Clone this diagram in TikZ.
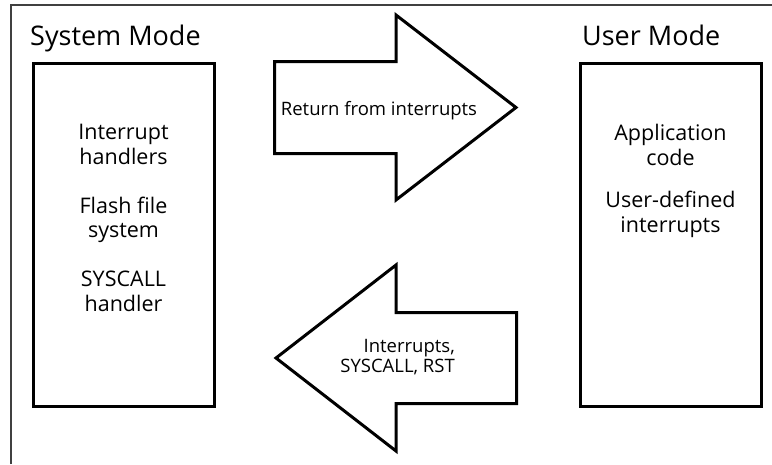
\documentclass[tikz,border=0pt]{standalone}
\usepackage{fontspec}
\setmainfont{Open Sans}
\usetikzlibrary{positioning}

\begin{document}
\begin{tikzpicture}[
    x=1pt, y=-1pt,
    modebox/.style={draw, line width=3pt, minimum width=181pt, minimum height=343pt, anchor=north west, inner sep=0pt},
    modetitle/.style={anchor=base west, inner sep=0pt, font=\fontsize{27}{30}\selectfont},
    boxtext/.style={anchor=north, inner sep=0pt, align=center, font=\fontsize{21.5}{24.5}\selectfont},
    arrowshape/.style={draw, line width=3pt, line join=miter},
    arrowtext/.style={inner sep=0pt, font=\fontsize{18.5}{20}\selectfont}
]
\useasboundingbox (0,0) rectangle (772,464);

% outer frame
\draw[line width=2pt, black!75] (11,464) |- (772,5);

% modes
\node[modebox] (sys) at (31.5,61.5) {};
\node[modebox] (usr) at (578.5,61.5) {};

\node[modetitle] (systitle) at (30,45) {System Mode};
\node[modetitle] (usrtitle) at (582,45) {User Mode};

\node[boxtext] (systext) at (sys.center |- 0,124)
    {Interrupt\\handlers\\[24.5pt]Flash file\\system\\[24.5pt]SYSCALL\\handler};
\node[boxtext] (usrtext) at (usr.center |- 0,124)
    {Application\\code\\[18pt]User-defined\\interrupts};

% system -> user
\draw[arrowshape] (274.5,61.5) -- (396,61.5) -- (396,15) -- (516,107.5)
    -- (396,200) -- (396,153.5) -- (274.5,153.5) -- cycle;
\node[arrowtext, anchor=base] (ret) at (379,115) {Return from interrupts};

% user -> system
\draw[arrowshape] (516.5,312.5) -- (396,312.5) -- (396,265) -- (276,358)
    -- (396,451) -- (396,403.5) -- (516.5,403.5) -- cycle;
\node[arrowtext, anchor=base east, align=right] (irq) at (455,372)
    {Interrupts,\\SYSCALL, RST};

\end{tikzpicture}
\end{document}
